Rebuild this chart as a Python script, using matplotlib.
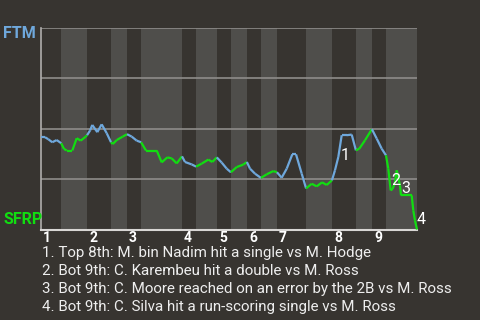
import matplotlib
matplotlib.use("Agg")
import matplotlib.pyplot as plt

# half-inning boundaries, in plate-appearance units along the game
half_inning_edges = [0, 4.3, 9.8, 14.9, 18.3, 21.3, 30.0, 33.0, 37.4, 40.4,
                     43.8, 46.8, 50.2, 56.4, 61.9, 67.0, 70.4, 73.4, 80.0]
inning_labels = ['1', '2', '3', '4', '5', '6', '7', '8', '9']

# FTM win probability after each event
wp_x = [0, 0.85, 1.55, 2.4, 3.34, 4.3, 4.89, 5.47, 6.66, 7.6, 8.45, 9.51, 9.8,
        10.43, 10.91, 11.98, 12.91, 13.98, 14.9, 15.26, 16.11, 17.38, 18.3,
        19.3, 20.36, 21.3, 22.34, 24.62, 25.68, 26.87, 27.81, 28.87, 30.0,
        30.64, 32.06, 33.0, 34.19, 35.6, 36.45, 37.4, 38.45, 39.51, 40.4,
        41.64, 43.04, 43.8, 44.47, 45.53, 46.8, 48.02, 49.43, 50.2, 51.21,
        52.28, 53.47, 54.26, 55.47, 56.4, 57.6, 58.66, 59.79, 60.79, 61.9,
        62.55, 63.26, 63.98, 65.04, 66.11, 67.0, 67.72, 68.94, 70.4, 71.43,
        72.49, 73.4, 73.89, 74.4, 74.83, 75.32, 75.68, 76.38, 76.6, 78.87,
        79.21, 79.57, 80.0]
wp_y = [0.458, 0.458, 0.448, 0.433, 0.444, 0.428, 0.400, 0.392, 0.392, 0.453,
        0.441, 0.461, 0.468, 0.491, 0.519, 0.483, 0.522, 0.478, 0.433, 0.424,
        0.444, 0.461, 0.473, 0.461, 0.441, 0.433, 0.392, 0.392, 0.333, 0.358,
        0.353, 0.328, 0.363, 0.335, 0.323, 0.312, 0.327, 0.347, 0.335, 0.358,
        0.332, 0.302, 0.284, 0.310, 0.322, 0.335, 0.302, 0.277, 0.256, 0.274,
        0.290, 0.284, 0.257, 0.302, 0.373, 0.373, 0.277, 0.204, 0.227, 0.214,
        0.234, 0.221, 0.244, 0.294, 0.360, 0.468, 0.468, 0.471, 0.393, 0.401,
        0.443, 0.498, 0.451, 0.401, 0.368, 0.302, 0.194, 0.202, 0.235, 0.294,
        0.219, 0.169, 0.169, 0.095, 0.045, 0.0]

note_x = [64.7, 75.5, 77.5, 80.8]
note_y = [0.368, 0.243, 0.205, 0.05]
notes = [
    "1. Top 8th: M. bin Nadim hit a single vs M. Hodge",
    "2. Bot 9th: C. Karembeu hit a double vs M. Ross",
    "3. Bot 9th: C. Moore reached on an error by the 2B vs M. Ross",
    "4. Bot 9th: C. Silva hit a run-scoring single vs M. Ross",
]

bg = '#373430'
stripe = '#4f4e4b'
away_color = '#6fa8dc'
home_color = '#11dd11'

plt.rcParams['font.family'] = ['Roboto', 'DejaVu Sans']

fig = plt.figure(figsize=(4.8, 3.2), dpi=100, facecolor=bg)
ax = fig.add_axes([41 / 480, 1 - 229.5 / 320, 376 / 480, 201.5 / 320])
ax.set_facecolor(bg)
ax.set_xlim(half_inning_edges[0], half_inning_edges[-1])
ax.set_ylim(0, 1)

# light stripes for the bottom halves
for i in range(1, len(half_inning_edges) - 1, 2):
    ax.axvspan(half_inning_edges[i], half_inning_edges[i + 1], color=stripe, lw=0, zorder=0)

for gy in [0.25, 0.5, 0.75, 1.0]:
    ax.axhline(gy, color='#8e8c8a', lw=1.2, zorder=1)

# colour each segment by which team is batting
for j in range(len(wp_x) - 1):
    mid = (wp_x[j] + wp_x[j + 1]) / 2
    half = sum(1 for e in half_inning_edges[1:-1] if mid > e)
    c = away_color if half % 2 == 0 else home_color
    ax.plot(wp_x[j:j + 2], wp_y[j:j + 2], color=c, lw=1.6, zorder=3,
            solid_capstyle='butt', clip_on=False)

for k, (nx, ny) in enumerate(zip(note_x, note_y)):
    ax.text(nx, ny, str(k + 1), color='white', fontsize=11.5,
            ha='center', va='center', zorder=4, clip_on=False)

for spine in ['top', 'right']:
    ax.spines[spine].set_visible(False)
ax.spines['left'].set_color('#b0aeac')
ax.spines['bottom'].set_color('#d8d6d4')
ax.spines['left'].set_linewidth(1.2)
ax.spines['bottom'].set_linewidth(1.5)
ax.set_xticks([])
ax.set_yticks([])

for n, lab in enumerate(inning_labels):
    ax.annotate(lab, xy=(half_inning_edges[2 * n], 0), xycoords=('data', 'axes fraction'),
                xytext=(1.5, -1), textcoords='offset points', ha='left', va='top',
                color='white', fontsize=10, fontweight='bold')

fig.text(3 / 480, 1 - 34 / 320, 'FTM', color=away_color, fontsize=11.5,
         fontweight='bold', ha='left', va='center')
fig.text(3 / 480, 1 - 220 / 320, 'SFRP', color=home_color, fontsize=11.5,
         fontweight='bold', ha='left', va='center')

for i, line in enumerate(notes):
    fig.text(42 / 480, 1 - (253 + 18 * i) / 320, line, color='#eeeeee', fontsize=10.9,
             ha='left', va='center')

fig.savefig('out.png', dpi=100, facecolor=bg)
